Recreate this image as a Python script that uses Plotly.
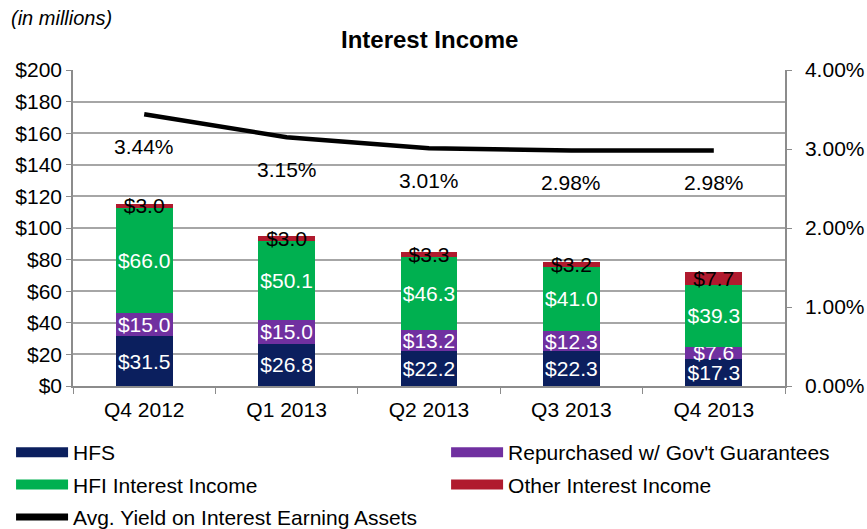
import plotly.graph_objects as go

# Quarterly interest income components ($ millions) and average yield (%)
quarters = ["Q4 2012", "Q1 2013", "Q2 2013", "Q3 2013", "Q4 2013"]
hfs = [31.5, 26.8, 22.2, 22.3, 17.3]
repurchased = [15.0, 15.0, 13.2, 12.3, 7.6]
hfi_income = [66.0, 50.1, 46.3, 41.0, 39.3]
other_income = [3.0, 3.0, 3.3, 3.2, 7.7]
avg_yield = [3.44, 3.15, 3.01, 2.98, 2.98]

FONT = "Liberation Sans, Arial, sans-serif"
GRID = "#a6a6a6"
AXIS = "#8c8c8c"
FS = 21
YIELD_NAME = "Avg. Yield on Interest Earning Assets"

series = [
    ("HFS", hfs, "#0b1f5e", "white", "legend"),
    ("Repurchased w/ Gov't Guarantees", repurchased, "#7030a0", "white", "legend2"),
    ("HFI Interest Income", hfi_income, "#00b050", "white", "legend"),
    ("Other Interest Income", other_income, "#b01a2e", "black", "legend2"),
]

fig = go.Figure()

for name, vals, color, txtcolor, leg in series:
    fig.add_trace(go.Bar(
        x=quarters, y=vals, name=name, width=0.4,
        marker=dict(color=color, line=dict(width=0)),
        text=vals, texttemplate="$%{y:.1f}", textposition="inside",
        insidetextanchor="middle", constraintext="none", textangle=0,
        textfont=dict(family=FONT, size=FS, color=txtcolor),
        showlegend=False, hoverinfo="skip",
    ))

# Legend swatches drawn as thick line keys
order = [0, 2, 1, 3]
for i in order:
    name, vals, color, txtcolor, leg = series[i]
    fig.add_trace(go.Scatter(
        x=[None], y=[None], mode="lines", name=name,
        line=dict(color=color, width=10), legend=leg,
        legendgroup=name,
    ))
fig.add_trace(go.Scatter(
    x=[None], y=[None], mode="lines", name=YIELD_NAME,
    line=dict(color="black", width=7), legend="legend",
    legendgroup="yield",
))

fig.add_trace(go.Scatter(
    x=quarters, y=avg_yield, yaxis="y2", mode="lines",
    name=YIELD_NAME, showlegend=False,
    line=dict(color="black", width=4.5),
))

for q, v in zip(quarters, avg_yield):
    fig.add_annotation(
        x=q, y=v, xref="x", yref="y2", text=f"{v:.2f}%",
        showarrow=False, yshift=-32,
        font=dict(family=FONT, size=FS, color="black"),
    )

fig.add_annotation(
    x=0.5, y=1.095, xref="paper", yref="paper", text="<b>Interest Income</b>",
    showarrow=False, font=dict(family=FONT, size=24, color="black"),
    xanchor="center", yanchor="middle",
)
fig.add_annotation(
    x=-0.09, y=1.165, xref="paper", yref="paper", text="<i>(in millions)</i>",
    showarrow=False, font=dict(family=FONT, size=20, color="black"),
    xanchor="left", yanchor="middle",
)

legend_common = dict(
    orientation="v", yanchor="top", xanchor="left",
    font=dict(family=FONT, size=FS, color="black"),
    bgcolor="rgba(0,0,0,0)", borderwidth=0, tracegroupgap=2,
    itemwidth=52, traceorder="grouped",
)

fig.update_layout(
    width=867, height=529,
    margin=dict(l=73, r=82, t=70, b=143, autoexpand=False),
    paper_bgcolor="white", plot_bgcolor="white",
    barmode="stack",
    font=dict(family=FONT, size=FS, color="black"),
    xaxis=dict(
        type="category", showline=True, linecolor=AXIS, linewidth=1.5,
        ticks="outside", tickson="boundaries", ticklen=6, tickcolor=AXIS,
        showgrid=False, tickfont=dict(family=FONT, size=FS),
        ticklabelstandoff=4,
    ),
    yaxis=dict(
        range=[0, 200], dtick=20, tickprefix="$", showline=True,
        linecolor=AXIS, linewidth=1.5, ticks="outside", ticklen=5,
        tickcolor=AXIS, showgrid=True, gridcolor=GRID, gridwidth=1.5,
        zeroline=False, tickfont=dict(family=FONT, size=FS),
    ),
    yaxis2=dict(
        range=[0, 4], dtick=1, tickformat=".2f", ticksuffix="%",
        overlaying="y", side="right", showline=True, linecolor=AXIS,
        linewidth=1.5, ticks="outside", ticklen=5, tickcolor=AXIS,
        showgrid=False, zeroline=False, tickfont=dict(family=FONT, size=FS),
        ticklabelstandoff=9,
    ),
    legend=dict(x=-0.087, y=-0.146, **legend_common),
    legend2=dict(x=0.524, y=-0.146, **legend_common),
    uniformtext=dict(mode="show", minsize=FS),
)

fig.write_html("out.html")
